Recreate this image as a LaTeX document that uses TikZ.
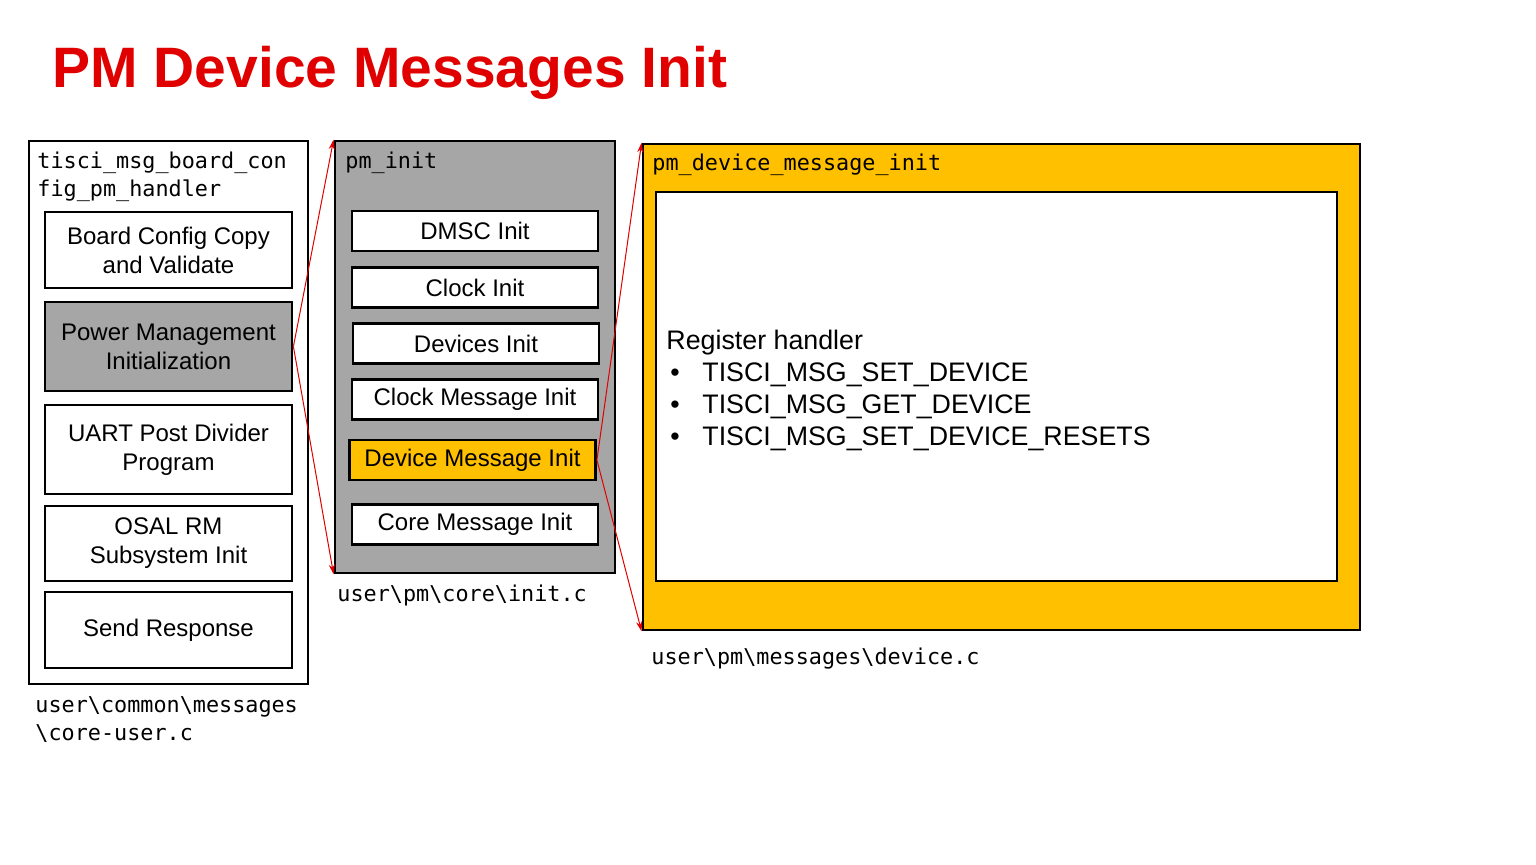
\documentclass[tikz,border=0pt]{standalone}
\usepackage{fontspec}
\setmainfont{Liberation Sans}
\newfontfamily\codefont{DejaVu Sans Mono}
\usetikzlibrary{arrows.meta}
\definecolor{tired}{RGB}{224,0,0}
\definecolor{tigray}{RGB}{166,166,166}
\definecolor{tiyellow}{RGB}{255,192,0}

\begin{document}
\begin{tikzpicture}[x=0.5pt,y=-0.5pt,
	frame/.style={draw=black, line width=1.4pt, inner sep=0pt},
	step box/.style={frame, fill=white, align=center, font=\fontsize{12}{14.5}\selectfont},
	code/.style={anchor=base west, inner sep=0pt, align=left, font=\codefont\fontsize{10.9}{14}\selectfont},
	link/.style={draw=tired, line width=0.5pt, -{Stealth[length=5pt,width=3pt]}}]
	\useasboundingbox (0,0) rectangle (1536,864);
	% title
	\node[anchor=base west, inner sep=0pt, text=tired, font=\bfseries\fontsize{28.5}{32}\selectfont] (title) at (52,87) {PM Device Messages Init};
	% board config handler
	\node[frame, fill=white, minimum width=139.5pt, minimum height=271.5pt] (cfg) at (168.5,412.5) {};
	\node[code] (cfgname) at (37,196) {tisci\_msg\_board\_con\\fig\_pm\_handler};
	\node[step box, minimum width=123.5pt, minimum height=38pt] (bcc) at (168.5,250) {Board Config Copy\\and Validate};
	\node[step box, fill=tigray, minimum width=123.5pt, minimum height=44.5pt] (pmi) at (168.5,346.5) {Power Management\\Initialization};
	\node[step box, minimum width=123.5pt, minimum height=44.5pt] (uart) at (168.5,449.5) {UART Post Divider\\Program};
	\node[step box, minimum width=123.5pt, minimum height=37.5pt] (osal) at (168.5,543.5) {OSAL RM\\Subsystem Init};
	\node[step box, minimum width=123.5pt, minimum height=38pt] (resp) at (168.5,630) {Send Response};
	\node[code] (cfgfile) at (35,740) {user\textbackslash common\textbackslash messages\\\textbackslash core-user.c};
	% pm_init
	\node[frame, fill=tigray, minimum width=140pt, minimum height=216pt] (pminit) at (475,357) {};
	\node[code] (pminame) at (345,168) {pm\_init};
	\node[step box, minimum width=123pt, minimum height=20pt] (dmsc) at (475,231) {DMSC Init};
	\node[step box, minimum width=123pt, minimum height=20pt] (clk) at (475,287.5) {Clock Init};
	\node[step box, minimum width=123pt, minimum height=20pt] (dev) at (476,343.5) {Devices Init};
	\node[step box, minimum width=123pt, minimum height=20pt] (clkmsg) at (475,399.5) {Clock Message Init};
	\node[step box, fill=tiyellow, minimum width=123pt, minimum height=20pt] (devmsg) at (472.5,460) {Device Message Init};
	\node[step box, minimum width=123pt, minimum height=20pt] (coremsg) at (475,524.5) {Core Message Init};
	\node[code] (pmifile) at (337,601) {user\textbackslash pm\textbackslash core\textbackslash init.c};
	% pm_device_message_init
	\node[frame, fill=tiyellow, minimum width=358.5pt, minimum height=243pt] (devinit) at (1001.5,387) {};
	\node[code] (devname) at (652,170) {pm\_device\_message\_init};
	\node[frame, fill=white, minimum width=340.5pt, minimum height=194.5pt] (devbody) at (996.5,386.5) {};
	\node[anchor=base west, inner sep=0pt, align=left, font=\fontsize{13.4}{16}\selectfont] (handlers) at (666,445)
		{Register handler\\
		\hspace*{2pt}\makebox[16pt][l]{\textbullet}TISCI\_MSG\_SET\_DEVICE\\
		\hspace*{2pt}\makebox[16pt][l]{\textbullet}TISCI\_MSG\_GET\_DEVICE\\
		\hspace*{2pt}\makebox[16pt][l]{\textbullet}TISCI\_MSG\_SET\_DEVICE\_RESETS};
	\node[code] (devfile) at (651,664) {user\textbackslash pm\textbackslash messages\textbackslash device.c};
	% zoom lines
	\draw[link] (pmi.east) -- (pminit.north west);
	\draw[link] (pmi.east) -- (pminit.south west);
	\draw[link] (devmsg.east) -- (devinit.north west);
	\draw[link] (devmsg.east) -- (devinit.south west);
\end{tikzpicture}
\end{document}
